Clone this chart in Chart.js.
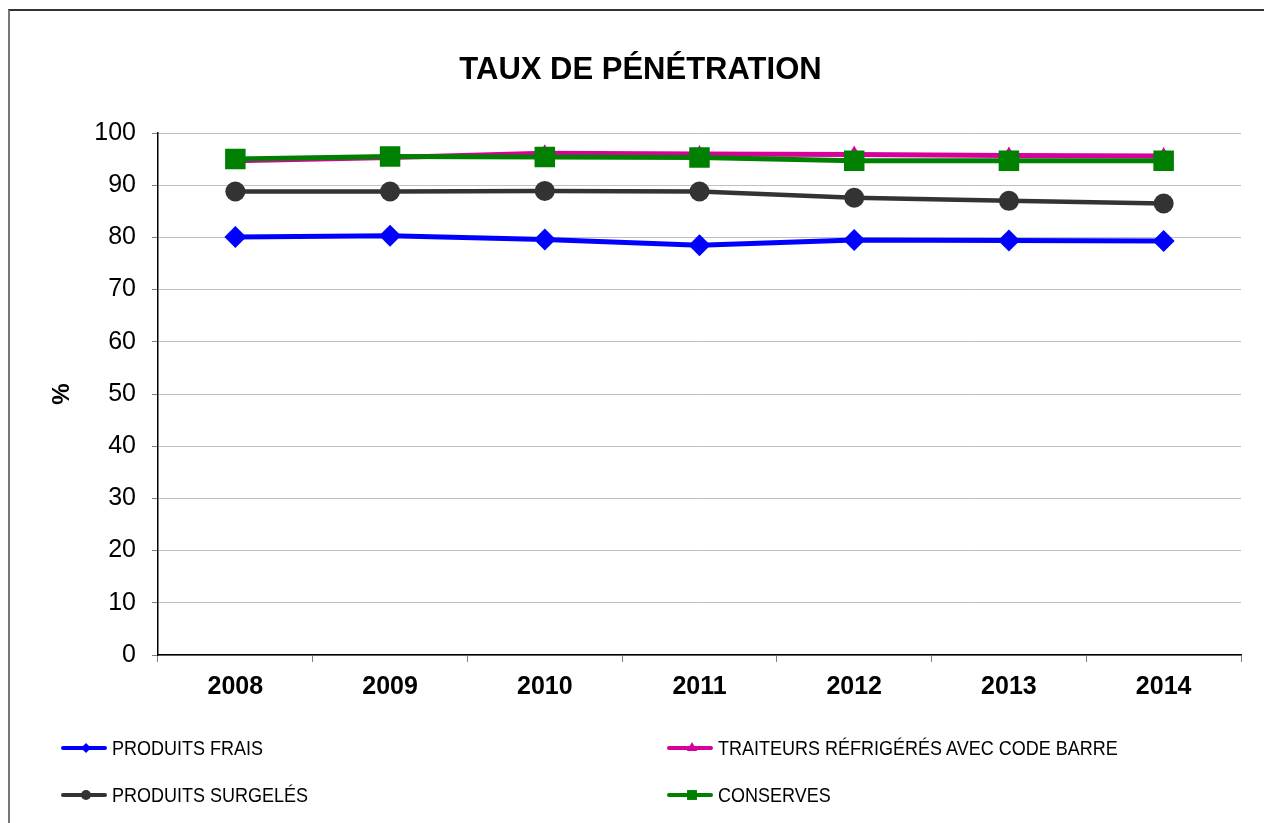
<!DOCTYPE html>
<html>
<head>
<meta charset="utf-8">
<title>Taux de pénétration</title>
<script src="https://cdn.jsdelivr.net/npm/chart.js@4/dist/chart.umd.min.js"></script>
<style>
  html, body { margin: 0; padding: 0; background: #fff; }
  body { width: 1264px; height: 823px; position: relative; overflow: hidden;
         font-family: "Liberation Sans", Arial, sans-serif; }
  .frame { position: absolute; left: 8px; top: 9px; width: 1400px; height: 900px;
           border-top: 2px solid #333; border-left: 2px solid #777; }
  .chart-container { position: absolute; left: 0; top: 0; width: 1264px; height: 823px; }
  .legend-item { position: absolute; display: flex; align-items: center;
                 font-size: 18px; color: #000; white-space: nowrap; }
  .legend-item span { display: inline-block; transform: scaleY(1.1); }
  .legend-item canvas { margin-right: 4px; }
</style>
</head>
<body>
<div class="frame"></div>
<div class="chart-container"><canvas id="myChart" width="1264" height="823"></canvas></div>
<div id="legend"></div>
<script>
const years = ["2008", "2009", "2010", "2011", "2012", "2013", "2014"];

const produitsFrais = [80.1, 80.3, 79.6, 78.5, 79.5, 79.4, 79.3];
const traiteurs = [94.7, 95.3, 96.1, 96.0, 95.9, 95.7, 95.6];
const produitsSurgeles = [88.8, 88.8, 88.9, 88.8, 87.6, 87.0, 86.5];
const conserves = [95.0, 95.5, 95.4, 95.3, 94.7, 94.7, 94.7];

const seriesNames = [
  "PRODUITS FRAIS",
  "TRAITEURS RÉFRIGÉRÉS AVEC CODE BARRE",
  "PRODUITS SURGELÉS",
  "CONSERVES",
];
const yTicks = [0, 10, 20, 30, 40, 50, 60, 70, 80, 90, 100];

const FONT = '"Liberation Sans", Arial, sans-serif';

const styles = [
  { color: "#0000ff", point: "rectRot", radius: 11, width: 5, legendRadius: 5 },
  { color: "#d6009a", point: "triangle", radius: 9, width: 5, legendRadius: 6 },
  { color: "#333333", point: "circle", radius: 10, width: 4.5, legendRadius: 5 },
  { color: "#008000", point: "rect", radius: 14.5, width: 5, legendRadius: 7 },
];

const values = [produitsFrais, traiteurs, produitsSurgeles, conserves];

const datasets = values.map((data, i) => ({
  label: seriesNames[i],
  data: data,
  borderColor: styles[i].color,
  backgroundColor: styles[i].color,
  borderWidth: styles[i].width,
  pointStyle: styles[i].point,
  pointRadius: styles[i].radius,
  pointBorderWidth: 0,
  pointBackgroundColor: styles[i].color,
  tension: 0,
  order: values.length - i,
}));

const chartConfiguration = {
  type: "line",
  data: { labels: years, datasets: datasets },
  options: {
    responsive: false,
    animation: false,
    layout: { padding: { left: 40, right: 23, top: 0, bottom: 0 } },
    plugins: {
      legend: { display: false },
      tooltip: { enabled: false },
      title: {
        display: true,
        text: "TAUX DE PÉNÉTRATION",
        color: "#000",
        font: { family: FONT, size: 31, weight: "bold" },
        padding: { top: 52, bottom: 43.8 },
      },
    },
    scales: {
      x: {
        offset: true,
        afterFit: (scale) => { scale.height = 168; },
        grid: {
          offset: true,
          drawOnChartArea: false,
          drawTicks: true,
          tickLength: 7,
          tickColor: "#808080",
        },
        border: { color: "#000", width: 1.5 },
        ticks: {
          color: "#000",
          padding: 10,
          maxRotation: 0,
          font: { family: FONT, size: 25, weight: "bold" },
        },
      },
      y: {
        min: 0,
        max: 100,
        afterFit: (scale) => { scale.width = 118; },
        afterBuildTicks: (scale) => { scale.ticks = yTicks.map((v) => ({ value: v })); },
        grid: {
          color: "#c0c0c0",
          lineWidth: 1,
          tickLength: 6,
          tickColor: "#808080",
        },
        border: { color: "#000", width: 1.5 },
        ticks: {
          color: "#000",
          padding: 16,
          font: { family: FONT, size: 25 },
        },
        title: {
          display: true,
          text: "%",
          color: "#000",
          padding: { top: 8, bottom: 0 },
          font: { family: FONT, size: 24, weight: "bold" },
        },
      },
    },
  },
};

const ctx = document.getElementById("myChart").getContext("2d");
const currentChart = new Chart(ctx, chartConfiguration);

// legend: two columns, filled row by row like the original
const legendPos = [
  { left: 60, top: 748 },
  { left: 666, top: 748 },
  { left: 60, top: 795 },
  { left: 666, top: 795 },
];
const legend = document.getElementById("legend");
seriesNames.forEach((name, i) => {
  const item = document.createElement("div");
  item.className = "legend-item";
  item.style.left = legendPos[i].left + "px";
  item.style.top = legendPos[i].top - 14 + "px";
  item.style.height = "28px";

  const c = document.createElement("canvas");
  c.width = 48;
  c.height = 20;
  const lctx = c.getContext("2d");
  lctx.strokeStyle = styles[i].color;
  lctx.lineWidth = 4;
  lctx.lineCap = "round";
  lctx.beginPath();
  lctx.moveTo(3, 10);
  lctx.lineTo(45, 10);
  lctx.stroke();
  lctx.fillStyle = styles[i].color;
  Chart.helpers.drawPoint(
    lctx,
    { pointStyle: styles[i].point, radius: styles[i].legendRadius, rotation: 0, borderWidth: 0 },
    26,
    10
  );
  item.appendChild(c);

  const label = document.createElement("span");
  label.textContent = name;
  item.appendChild(label);
  legend.appendChild(item);
});
</script>
</body>
</html>
